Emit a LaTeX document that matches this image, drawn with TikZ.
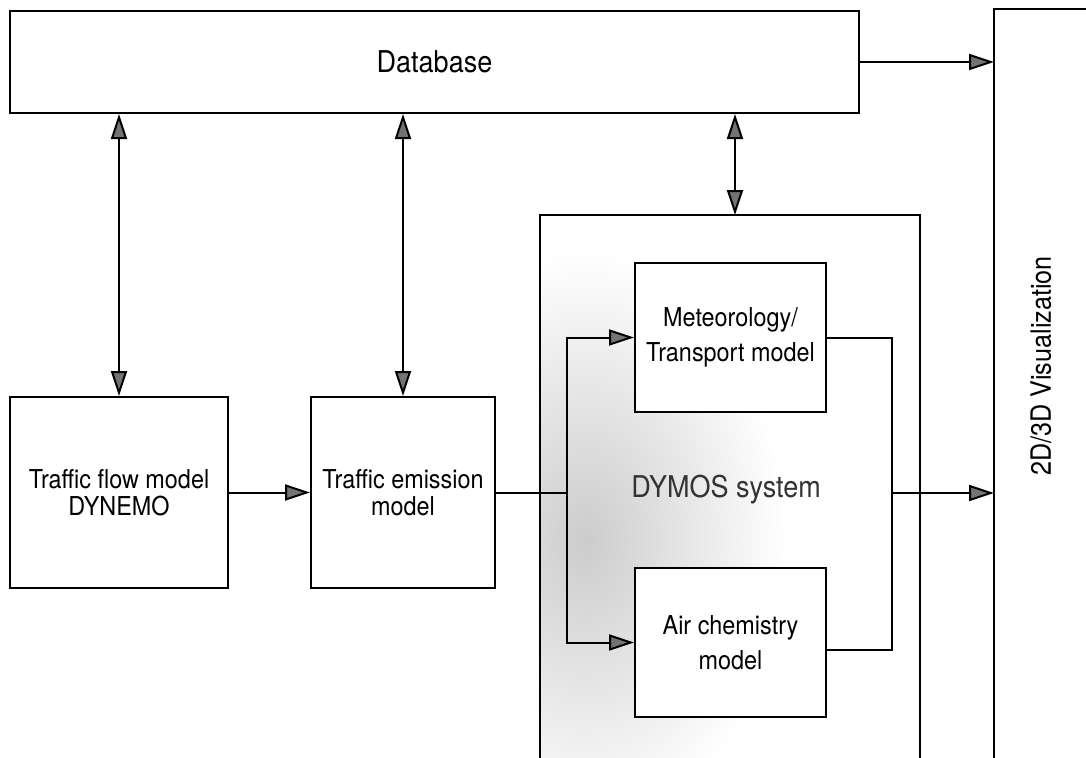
\documentclass[tikz,border=0pt]{standalone}
\usepackage{fontspec}
\setmainfont{TeX Gyre Heros}[FakeStretch=0.9]
\usetikzlibrary{arrows.meta}
\tikzset{
  box/.style={draw, fill=white, inner sep=0pt, align=center},
  arr/.style={-{Triangle[length=25pt,width=16pt,fill=black!55]}},
  darr/.style={{Triangle[length=25pt,width=16pt,fill=black!55]}-{Triangle[length=25pt,width=16pt,fill=black!55]}},
  txtA/.style={font=\fontsize{26}{27}\selectfont},
  txtB/.style={font=\fontsize{26}{35}\selectfont},
}
\begin{document}
\begin{tikzpicture}[x=1pt,y=-1pt,line width=2pt]
\useasboundingbox[fill=white] (0,0) rectangle (1086,757);

% shading inside DYMOS box
\begin{scope}
  \clip (540,215) rectangle (920,760);
  \shade[inner color=gray!40, outer color=white] (585,540) ellipse (200 and 290);
\end{scope}

% visualization box (open at right and bottom)
\draw (1090,9) -- (994,9) -- (994,762);
\coordinate (visTop) at (994,62);
\coordinate (visMid) at (994,493);
\node[rotate=90, font=\fontsize{28}{30}\selectfont] (vislabel) at (1041,366) {2D/3D Visualization};

% DYMOS outer box (open at bottom)
\draw (540,762) -- (540,215) -- (920,215) -- (920,762);
\coordinate (dymTop) at (735,215);
\node[text=black!80, font=\fontsize{30}{32}\selectfont] (dymlabel) at (726,490) {DYMOS system};

% boxes
\node[box, minimum width=849pt, minimum height=102pt, font=\fontsize{30}{32}\selectfont] (db) at (434.5,62) {Database};
\node[box, minimum width=218pt, minimum height=191pt, txtA] (tf) at (119,492.5) {Traffic flow model\\DYNEMO};
\node[box, minimum width=184pt, minimum height=191pt, txtA] (te) at (403,492.5) {Traffic emission\\model};
\node[box, minimum width=191pt, minimum height=149pt, txtB] (met) at (730.5,337.5) {Meteorology/\\Transport model};
\node[box, minimum width=191pt, minimum height=149pt, txtB] (air) at (730.5,642.5) {Air chemistry\\model};

% connectors
\draw[arr] (db.east) -- (visTop);
\draw[darr] (db.south -| tf.north) -- (tf.north);
\draw[darr] (db.south -| te.north) -- (te.north);
\draw[darr] (db.south -| dymTop) -- (dymTop);
\draw[arr] (tf.east) -- (te.west);

\coordinate (split) at (567,492.5);
\draw (te.east) -- (split);
\draw[arr] (split) |- (met.west);
\draw[arr] (split) |- (air.west);

\coordinate (join) at (892,493);
\draw (met.east) -| (join);
\draw ([yshift=-7.5pt]air.east) -| (join);
\draw[arr] (join) -- (visMid);
\end{tikzpicture}
\end{document}
